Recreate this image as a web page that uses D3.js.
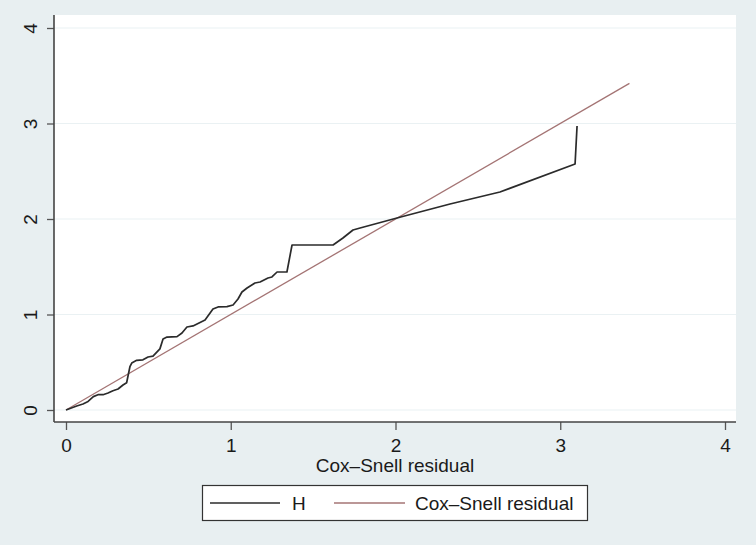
<!DOCTYPE html>
<html>
<head>
<meta charset="utf-8">
<script src="https://cdn.jsdelivr.net/npm/d3@7"></script>
<style>
  html, body { margin: 0; padding: 0; background: #e8eff1; }
  svg { display: block; }
  text { font-family: "Liberation Sans", Arial, sans-serif; fill: #1a1a1a; }
</style>
</head>
<body>
<svg id="chart" width="756" height="545"></svg>
<script>
// ---- data ----
const xTicks = [0, 1, 2, 3, 4];
const yTicks = [0, 1, 2, 3, 4];
const xTitle = "Cox\u2013Snell residual";
const legendLabels = ["H", "Cox\u2013Snell residual"];

// Nelson–Aalen cumulative hazard (H) against Cox–Snell residual
const hX = [0.00, 0.065, 0.103, 0.134, 0.166, 0.194, 0.225, 0.255, 0.285, 0.316,
            0.346, 0.368, 0.388, 0.399, 0.429, 0.467, 0.498, 0.528, 0.570, 0.589,
            0.613, 0.674, 0.704, 0.734, 0.771, 0.844, 0.892, 0.923, 0.977, 1.014,
            1.044, 1.068, 1.099, 1.147, 1.178, 1.226, 1.250, 1.281, 1.341, 1.372,
            1.621, 1.681, 1.742, 1.785, 2.009, 2.331, 2.634, 3.090, 3.102];
const hY = [0.00, 0.042, 0.063, 0.090, 0.140, 0.160, 0.160, 0.178, 0.202, 0.220,
            0.262, 0.285, 0.453, 0.492, 0.520, 0.525, 0.555, 0.565, 0.640, 0.743,
            0.764, 0.768, 0.806, 0.869, 0.880, 0.942, 1.058, 1.079, 1.082, 1.099,
            1.162, 1.236, 1.277, 1.330, 1.340, 1.382, 1.393, 1.445, 1.445, 1.728,
            1.728, 1.801, 1.885, 1.906, 2.010, 2.157, 2.283, 2.576, 2.974];
// 45-degree reference: Cox–Snell residual against itself
const csRef = [0.00, 3.42];

// ---- layout ----
const svg = d3.select("#chart");
const plot = { left: 54, right: 736, top: 15, bottom: 422 };
const FS = 19;

const x = d3.scaleLinear().domain([0, 4]).range([66, 725]);
const y = d3.scaleLinear().domain([0, 4]).range([410, 28]);

// background
svg.append("rect").attr("x", 0).attr("y", 0).attr("width", 756).attr("height", 545).attr("fill", "#e8eff1");
svg.append("rect")
  .attr("x", plot.left).attr("y", plot.top)
  .attr("width", plot.right - plot.left).attr("height", plot.bottom - plot.top)
  .attr("fill", "#ffffff");

// gridlines
svg.append("g").selectAll("line").data(yTicks).join("line")
  .attr("x1", plot.left).attr("x2", plot.right)
  .attr("y1", d => y(d)).attr("y2", d => y(d))
  .attr("stroke", "#eaf1f3").attr("stroke-width", 1.2);

// y axis
const yAxis = svg.append("g").attr("transform", `translate(${plot.left},0)`)
  .call(d3.axisLeft(y).tickValues(yTicks).tickSize(7).tickPadding(3).tickFormat(d3.format("d")));
yAxis.select(".domain").remove();
yAxis.selectAll(".tick line").attr("stroke", "#555").attr("stroke-width", 1.3);
yAxis.selectAll(".tick text")
  .attr("x", null).attr("dy", null)
  .attr("text-anchor", "middle")
  .attr("transform", "translate(-17,0) rotate(-90)")
  .attr("font-size", FS);

// x axis
const xAxis = svg.append("g").attr("transform", `translate(0,${plot.bottom})`)
  .call(d3.axisBottom(x).tickValues(xTicks).tickSize(8).tickFormat(d3.format("d")));
xAxis.select(".domain").remove();
xAxis.selectAll(".tick line").attr("stroke", "#555").attr("stroke-width", 1.3);
xAxis.selectAll(".tick text")
  .attr("y", 30).attr("dy", null)
  .attr("font-size", FS);

// axis lines
svg.append("line").attr("x1", plot.left).attr("x2", plot.left).attr("y1", plot.top).attr("y2", plot.bottom)
  .attr("stroke", "#444").attr("stroke-width", 1.6);
svg.append("line").attr("x1", plot.left).attr("x2", plot.right).attr("y1", plot.bottom).attr("y2", plot.bottom)
  .attr("stroke", "#444").attr("stroke-width", 1.6);

// axis title
svg.append("text").attr("x", (plot.left + plot.right) / 2).attr("y", 472)
  .attr("text-anchor", "middle").attr("font-size", FS).text(xTitle);

// lines
const hData = hX.map((v, i) => [v, hY[i]]);
const refData = csRef.map(v => [v, v]);
const lineGen = d3.line().x(d => x(d[0])).y(d => y(d[1]));

svg.append("path").datum(refData).attr("d", lineGen)
  .attr("fill", "none").attr("stroke", "#a47474").attr("stroke-width", 1.3);
svg.append("path").datum(hData).attr("d", lineGen)
  .attr("fill", "none").attr("stroke", "#2b2b2b").attr("stroke-width", 1.7)
  .attr("stroke-linejoin", "round");

// legend
const lg = svg.append("g");
lg.append("rect").attr("x", 202.5).attr("y", 485.5).attr("width", 385).attr("height", 35)
  .attr("fill", "#ffffff").attr("stroke", "#333").attr("stroke-width", 1.2);
lg.append("line").attr("x1", 210).attr("x2", 280).attr("y1", 503).attr("y2", 503)
  .attr("stroke", "#2b2b2b").attr("stroke-width", 1.7);
lg.append("text").attr("x", 292).attr("y", 510).attr("font-size", FS).text(legendLabels[0]);
lg.append("line").attr("x1", 334).attr("x2", 405).attr("y1", 503).attr("y2", 503)
  .attr("stroke", "#a47474").attr("stroke-width", 1.3);
lg.append("text").attr("x", 415).attr("y", 510).attr("font-size", FS).text(legendLabels[1]);
</script>
</body>
</html>
